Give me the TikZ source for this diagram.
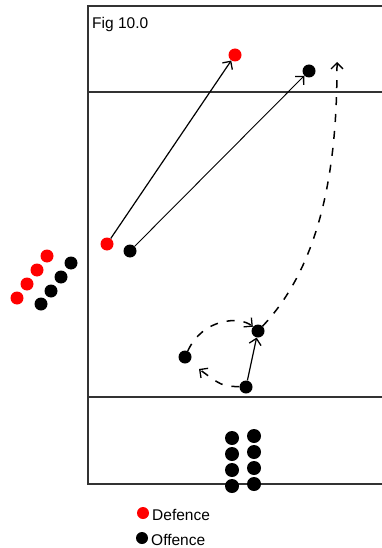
\documentclass[tikz,border=0pt]{standalone}
\usepackage{fontspec}
\setmainfont{Liberation Sans}
\usetikzlibrary{arrows.meta}
\begin{document}
\begin{tikzpicture}[x=1pt,y=-1pt,
  rink/.style={line width=1.7pt,draw=black!80},
  player/.style={circle,inner sep=0pt,minimum size=13pt,draw=none},
  def/.style={player,fill=red},
  off/.style={player,fill=black},
  tip/.style={-{Straight Barb[length=6pt,width=12pt,line width=1.3pt]}},
  run/.style={tip,line width=1.2pt},
  skate/.style={tip,line width=1.5pt,dash pattern=on 8pt off 9pt},
  lbl/.style={inner sep=0pt,font=\fontsize{15.5}{18}\selectfont}]
\useasboundingbox (0,0) rectangle (382,548);
% rink outline and lines
\draw[rink] (382,6) -- (88,6) -- (88,484) -- (382,484);
\draw[rink] (88,92) -- (382,92);
\draw[rink] (88,397) -- (382,397);
\node[lbl,anchor=base west] (title) at (92,29) {Fig 10.0};
% players on the ice
\node[def] (d1) at (107,244) {};
\node[def] (d2) at (235,55) {};
\node[off] (o1) at (130,251) {};
\node[off] (o2) at (309,71) {};
\node[off] (m) at (258,331) {};
\node[off] (l) at (185,357) {};
\node[off] (b) at (246,387) {};
% bench
\node[def] (bd1) at (47,256) {};
\node[def] (bd2) at (37,270) {};
\node[def] (bd3) at (27,284) {};
\node[def] (bd4) at (17,298) {};
\node[off] (bo1) at (71,263) {};
\node[off] (bo2) at (61,277) {};
\node[off] (bo3) at (51,291) {};
\node[off] (bo4) at (41,304) {};
% line-up at the bottom
\foreach \i/\y in {1/438,2/454,3/470,4/486}{
  \node[off,minimum size=14pt] (ql\i) at (232,\y) {};
}
\foreach \i/\y in {1/436,2/452,3/468,4/484}{
  \node[off,minimum size=14pt] (qr\i) at (254,\y) {};
}
% movements
\coordinate (e1) at (337,62);
\coordinate (e2) at (199,369);
\draw[run] (d1) -- (d2);
\draw[run,line width=0.9pt] (o1) -- (o2);
\draw[run] (b) -- (m);
\draw[skate] (m) .. controls (330,255) and (337,140) .. (e1);
\draw[skate] (b) .. controls (222,386) .. (e2);
\draw[skate] (l) .. controls (203,318) and (240,316) .. (m);
% legend
\node[def,minimum size=12pt] (kd) at (143,513) {};
\node[lbl,anchor=base west] (kdt) at (152,520) {Defence};
\node[off,minimum size=12pt] (ko) at (142,538) {};
\node[lbl,anchor=base west] (kot) at (151,545) {Offence};
\end{tikzpicture}
\end{document}
